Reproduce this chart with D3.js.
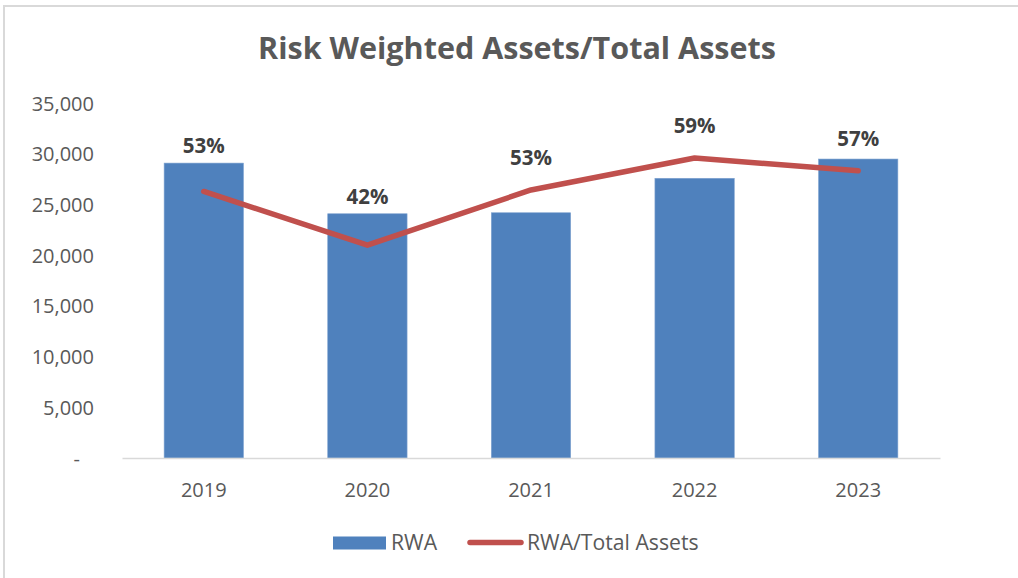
<!DOCTYPE html>
<html>
<head>
<meta charset="utf-8">
<script src="https://cdn.jsdelivr.net/npm/d3@7"></script>
<style>
  html, body { margin: 0; padding: 0; background: #fff; }
  svg { display: block; font-family: "Open Sans", "Liberation Sans", sans-serif; }
</style>
</head>
<body>
<svg id="chart" width="1018" height="578"></svg>
<script>
// ---- data ----
const years = ["2019", "2020", "2021", "2022", "2023"];
const rwa = [29100, 24100, 24200, 27600, 29500];
const rwaRatio = [0.526, 0.420, 0.529, 0.592, 0.567];
const yTicks = [0, 5000, 10000, 15000, 20000, 25000, 30000, 35000];
const title = "Risk Weighted Assets/Total Assets";
const seriesNames = ["RWA", "RWA/Total Assets"];

// ---- layout ----
const W = 1018, H = 578;
const plot = { left: 122, right: 940, top: 103.3, bottom: 458 };
const barColor = "#4F81BD", lineColor = "#C0504D", textColor = "#595959";

const svg = d3.select("#chart");

// chart frame (only top/left edges visible in the reference)
svg.append("rect")
  .attr("x", 4).attr("y", 6)
  .attr("width", W + 20).attr("height", H + 20)
  .attr("fill", "#fff")
  .attr("stroke", "#d9d9d9").attr("stroke-width", 2);

const x = d3.scaleBand().domain(years)
  .range([plot.left, plot.right])
  .paddingInner(0.515).paddingOuter(0.2575);
const y = d3.scaleLinear().domain([0, 35000]).range([plot.bottom, plot.top]);
const y2 = d3.scaleLinear().domain([0, 0.7]).range([plot.bottom, plot.top]);

// title
const t = svg.append("text")
  .attr("x", 517).attr("y", 58.5)
  .attr("text-anchor", "middle")
  .attr("font-weight", "bold")
  .attr("font-size", 26)
  .attr("fill", textColor)
  .text(title);
const tw = t.node().getComputedTextLength();
t.attr("font-size", 26 * 518 / tw);

// y axis (no line, no ticks)
const yAxis = d3.axisLeft(y).tickValues(yTicks).tickSize(0).tickPadding(0)
  .tickFormat(d => d === 0 ? "-" : d3.format(",")(d));
const gy = svg.append("g").attr("transform", `translate(94,0)`).call(yAxis);
gy.select(".domain").remove();
gy.selectAll("text")
  .attr("font-size", 20).attr("fill", textColor)
  .attr("font-family", "'Open Sans', sans-serif")
  .attr("dy", "0.35em");
gy.selectAll(".tick").filter(d => d === 0).select("text").attr("dx", "-14px");

// bars
svg.append("g").selectAll("rect").data(years).join("rect")
  .attr("x", d => x(d))
  .attr("width", x.bandwidth())
  .attr("y", (d, i) => y(rwa[i]))
  .attr("height", (d, i) => y(0) - y(rwa[i]))
  .attr("fill", barColor)
  .attr("stroke", "#7fa3d0").attr("stroke-width", 0.6);

// x axis
const xAxis = d3.axisBottom(x).tickSize(0).tickPadding(0);
const gx = svg.append("g").attr("transform", `translate(0,${plot.bottom})`).call(xAxis);
gx.select(".domain").attr("stroke", "#d9d9d9").attr("stroke-width", 1.5);
gx.selectAll("text")
  .attr("font-size", 20).attr("fill", textColor)
  .attr("font-family", "'Open Sans', sans-serif")
  .attr("y", 39).attr("dy", 0);

// line
const line = d3.line()
  .x((d, i) => x(years[i]) + x.bandwidth() / 2)
  .y(d => y2(d));
svg.append("path")
  .datum(rwaRatio)
  .attr("d", line)
  .attr("fill", "none")
  .attr("stroke", lineColor)
  .attr("stroke-width", 5.5)
  .attr("stroke-linecap", "round")
  .attr("stroke-linejoin", "round");

// data labels
svg.append("g").selectAll("text").data(rwaRatio).join("text")
  .attr("x", (d, i) => x(years[i]) + x.bandwidth() / 2)
  .attr("y", (d, i) => Math.min(y(rwa[i]) - 17, y2(d) - 32))
  .attr("dy", "0.35em")
  .attr("text-anchor", "middle")
  .attr("font-size", 20.5)
  .attr("font-weight", "bold")
  .attr("fill", "#404040")
  .text(d => d3.format(".0%")(d));

// legend
const lg = svg.append("g");
lg.append("rect").attr("x", 333).attr("y", 536.5).attr("width", 53).attr("height", 13).attr("fill", barColor);
lg.append("text").attr("x", 391).attr("y", 543).attr("dy", "0.35em")
  .attr("font-size", 21.2).attr("fill", textColor).text(seriesNames[0]);
lg.append("line").attr("x1", 470).attr("x2", 521).attr("y1", 542.5).attr("y2", 542.5)
  .attr("stroke", lineColor).attr("stroke-width", 5.5).attr("stroke-linecap", "round");
lg.append("text").attr("x", 527).attr("y", 543).attr("dy", "0.35em")
  .attr("font-size", 21.2).attr("fill", textColor).text(seriesNames[1]);
</script>
</body>
</html>
